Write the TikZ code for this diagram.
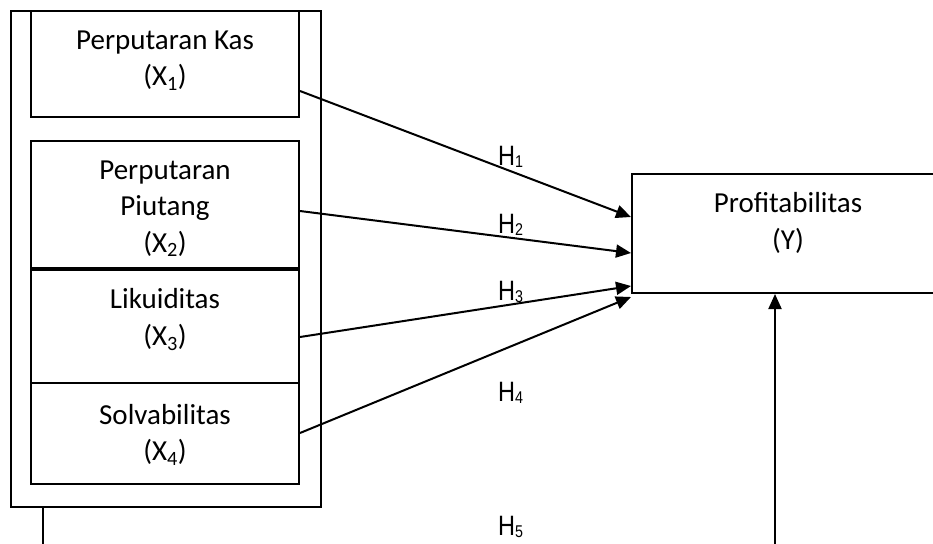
\documentclass[tikz,border=0pt]{standalone}
\usepackage{fontspec}
\setmainfont{Carlito}
\newfontfamily\hfont{Liberation Sans}
\usetikzlibrary{arrows.meta,calc}
\newcommand{\Hlab}[1]{\scalebox{0.84}[1]{\hfont\fontsize{28}{30}\selectfont H\raisebox{-2pt}{\fontsize{17}{18}\selectfont #1}}}
\tikzset{
  box/.style={draw, line width=2pt, inner sep=0pt},
  boxtext/.style={align=center, inner sep=0pt, font=\fontsize{29}{36.5}\selectfont},
  hlab/.style={anchor=base west, inner sep=0pt},
  conn/.style={line width=2pt, -{Triangle[length=15pt,width=13pt]}},
  plain/.style={line width=2pt}
}
\begin{document}
\begin{tikzpicture}[x=1pt,y=-1pt]
\clip (0,0) rectangle (933,543);
\useasboundingbox (0,0) rectangle (933,543);
\fill[white] (0,0) rectangle (933,543);
% outer frame
\node[box, minimum width=310pt, minimum height=496pt] (outer) at (166,259) {};
% variable boxes
\node[box, minimum width=268pt, minimum height=106pt] (b1) at (165,64) {};
\node[box, minimum width=268pt, minimum height=127pt] (b2) at (165,204.5) {};
\node[box, minimum width=268pt, minimum height=113pt] (b3) at (165,326.5) {};
\node[box, minimum width=268pt, minimum height=101pt] (b4) at (165,433.5) {};
\node[box, minimum width=312pt, minimum height=119pt] (Y) at (788,233.5) {};
% texts
\node[boxtext] (t1) at (165,60.5) {Perputaran Kas\\(X\textsubscript{1})};
\node[boxtext] (t2) at (165,208.5) {Perputaran\\Piutang\\(X\textsubscript{2})};
\node[boxtext] (t3) at (165,319.5) {Likuiditas\\(X\textsubscript{3})};
\node[boxtext] (t4) at (165,434.5) {Solvabilitas\\(X\textsubscript{4})};
\node[boxtext] (tY) at (788,223) {Profitabilitas\\(Y)};
% connectors
\draw[conn] ($(b1.east)+(0,27)$) -- ($(Y.west)+(0,-16.5)$);
\draw[conn] ($(b2.east)+(0,6.5)$) -- ($(Y.west)+(0,19.5)$);
\draw[conn] ($(b3.east)+(0,10.5)$) -- ($(Y.west)+(0,52.5)$);
\draw[conn] ($(b4.east)+(0,-0.5)$) -- ($(Y.south west)+(0,3)$);
\coordinate (h5start) at (775,560);
\coordinate (leftend) at (43,560);
\draw[conn] (h5start) -- (h5start |- Y.south);
\draw[plain] (outer.south west -| leftend) -- (leftend);
% hypothesis labels
\node[hlab] (H1) at (498,165) {\Hlab{1}};
\node[hlab] (H2) at (498,233) {\Hlab{2}};
\node[hlab] (H3) at (498,300) {\Hlab{3}};
\node[hlab] (H4) at (498,401) {\Hlab{4}};
\node[hlab] (H5) at (498,535) {\Hlab{5}};
\end{tikzpicture}
\end{document}
